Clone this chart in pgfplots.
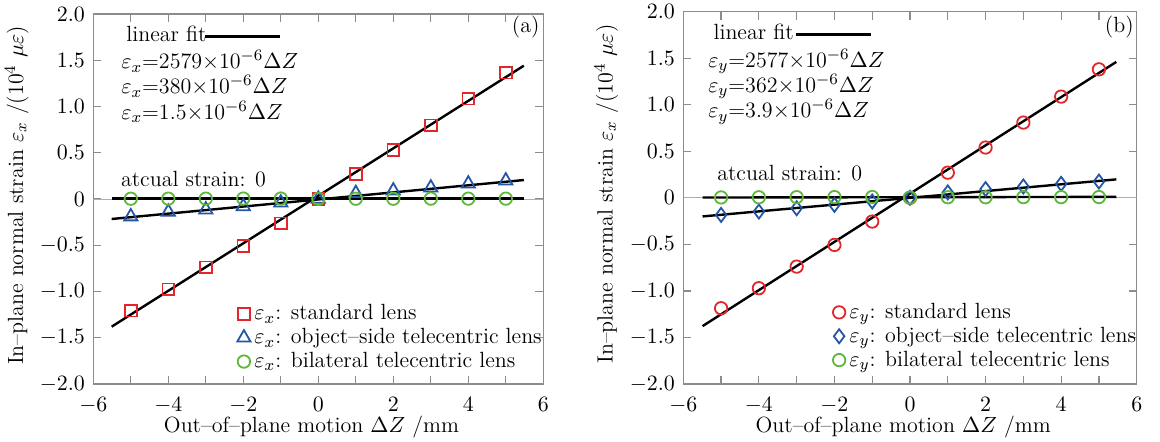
\documentclass[border=0pt]{standalone}
\usepackage{pgfplots}
\pgfplotsset{compat=1.18}
\definecolor{myred}{HTML}{E3262B}
\definecolor{myblue}{HTML}{2356A6}
\definecolor{mygreen}{HTML}{5DB83A}
\definecolor{axgray}{HTML}{8C8C8C}
\begin{document}
\begin{tikzpicture}[font=\fontsize{11}{13}\selectfont]
\useasboundingbox (0,0) rectangle (580pt,220.5pt);
\pgfplotsset{
  common/.style={
    scale only axis,
    xmin=-6, xmax=6, ymin=-2, ymax=2,
    xtick={-6,-4,-2,0,2,4,6},
    minor xtick={-5,-3,-1,1,3,5},
    ytick={-2,-1.5,-1,-0.5,0,0.5,1,1.5,2},
    yticklabels={$-2.0$,$-1.5$,$-1.0$,$-0.5$,$0$,$0.5$,$1.0$,$1.5$,$2.0$},
    tick align=inside,
    axis line style={axgray, line width=0.6pt},
    tick style={axgray, line width=0.6pt},
    major tick length=4pt, minor tick length=4pt,
    tick label style={font=\fontsize{10.5}{12}\selectfont},
    xticklabel style={inner sep=0.5pt, yshift=-5.8pt},
    yticklabel style={inner sep=0.5pt, xshift=-3.5pt},
    every axis y label/.style={at={(axis description cs:-0.17,0.51)}, rotate=90, anchor=center},
    every axis x label/.style={at={(axis description cs:0.485,0)}, yshift=-21.5pt, anchor=center},
    xlabel={Out--of--plane motion $\Delta Z$ /mm},
    ylabel={In--plane normal strain $\varepsilon_x$ /(10$^4$ $\mu\varepsilon$)},
    legend style={draw=none, fill=none, inner sep=0pt, cells={anchor=west},
      row sep=-1.2pt, font=\fontsize{11}{13}\selectfont},
    legend image code/.code={\draw[##1] plot coordinates {(0cm,0cm)};},
    fitline/.style={black, line width=1.2pt, forget plot},
  }
}
% ---------------- panel (a)
\begin{axis}[common, at={(46.65pt,28.5pt)}, anchor=south west, width=225pt, height=185pt,
  legend style={at={(axis cs:-2.17,-1.095)}, anchor=north west}]
\addplot[axgray!70, line width=0.4pt, forget plot] coordinates {(-6,0) (6,0)};
\addplot[fitline] coordinates {(-5.51,-1.38) (5.48,1.441)};
\addplot[fitline] coordinates {(-5.51,-0.216) (5.48,0.205)};
\addplot[fitline] coordinates {(-5.51,0.004) (5.48,0.004)};
\addplot[only marks, mark=square, mark size=2.9pt, myred, line width=0.9pt] coordinates {
(-5,-1.207) (-4,-0.977) (-3,-0.739) (-2,-0.508) (-1,-0.263) (0,0.0) (1,0.27) (2,0.53) (3,0.797) (4,1.085) (5,1.366)};
\addlegendentry{$\varepsilon_x$: standard lens}
\addplot[only marks, mark=triangle, mark size=3.8pt, myblue, line width=0.9pt] coordinates {
(-5,-0.19) (-4,-0.14) (-3,-0.115) (-2,-0.08) (-1,-0.04) (0,0.0) (1,0.062) (2,0.09) (3,0.122) (4,0.165) (5,0.198)};
\addlegendentry{$\varepsilon_x$: object--side telecentric lens}
\addplot[only marks, mark=o, mark size=3.1pt, mygreen, line width=0.9pt] coordinates {
(-5,0.003) (-4,0.004) (-3,0.004) (-2,0.005) (-1,0.005) (0,0.002) (1,0.003) (2,0.003) (3,0.004) (4,0.004) (5,0.004)};
\addlegendentry{$\varepsilon_x$: bilateral telecentric lens}
\node[anchor=base west, inner sep=0pt] at (axis cs:-5.13,1.70) {linear fit};
\draw[black, line width=1.2pt] (axis cs:-3.02,1.755) -- (axis cs:-1.02,1.755);
\node[anchor=north west, inner sep=0pt, align=left, font=\fontsize{11}{12.6}\selectfont] at (axis cs:-5.26,1.61)
  {$\varepsilon_x$=2579$\times$10$^{-6}\Delta Z$\\ $\varepsilon_x$=380$\times$10$^{-6}\Delta Z$\\ $\varepsilon_x$=1.5$\times$10$^{-6}\Delta Z$};
\node[anchor=base west, inner sep=0pt] at (axis cs:-5.27,0.133) {atcual strain: 0};
\node[anchor=base east, inner sep=0pt] at (axis cs:5.91,1.80) {(a)};
\end{axis}
% ---------------- panel (b)
\begin{axis}[common, at={(341.65pt,28.5pt)}, anchor=south west, width=226.7pt, height=186.2pt,
  legend style={at={(axis cs:-2.05,-1.085)}, anchor=north west}]
\addplot[axgray!70, line width=0.4pt, forget plot] coordinates {(-6,0) (6,0)};
\addplot[fitline] coordinates {(-5.49,-1.378) (5.46,1.46)};
\addplot[fitline] coordinates {(-5.49,-0.2) (5.46,0.198)};
\addplot[fitline] coordinates {(-5.49,0.003) (5.46,0.01)};
\addplot[only marks, mark=o, mark size=3.1pt, myred, line width=0.9pt] coordinates {
(-5,-1.186) (-4,-0.971) (-3,-0.739) (-2,-0.506) (-1,-0.255) (0,0.0) (1,0.27) (2,0.54) (3,0.808) (4,1.087) (5,1.38)};
\addlegendentry{$\varepsilon_y$: standard lens}
\addplot[only marks, mark=diamond, mark size=3.5pt, myblue, line width=0.9pt] coordinates {
(-5,-0.184) (-4,-0.148) (-3,-0.112) (-2,-0.076) (-1,-0.04) (0,0.0) (1,0.058) (2,0.094) (3,0.122) (4,0.15) (5,0.175)};
\addlegendentry{$\varepsilon_y$: object--side telecentric lens}
\addplot[only marks, mark=o, mark size=3.1pt, mygreen, line width=0.9pt] coordinates {
(-5,0.004) (-4,0.006) (-3,0.007) (-2,0.008) (-1,0.009) (0,0.003) (1,0.006) (2,0.006) (3,0.007) (4,0.007) (5,0.008)};
\addlegendentry{$\varepsilon_y$: bilateral telecentric lens}
\node[anchor=base west, inner sep=0pt] at (axis cs:-5.21,1.696) {linear fit};
\draw[black, line width=1.2pt] (axis cs:-3.02,1.755) -- (axis cs:-1.03,1.755);
\node[anchor=north west, inner sep=0pt, align=left, font=\fontsize{11}{12.6}\selectfont] at (axis cs:-5.35,1.60)
  {$\varepsilon_y$=2577$\times$10$^{-6}\Delta Z$\\ $\varepsilon_y$=362$\times$10$^{-6}\Delta Z$\\ $\varepsilon_y$=3.9$\times$10$^{-6}\Delta Z$};
\node[anchor=base west, inner sep=0pt] at (axis cs:-5.11,0.19) {atcual strain: 0};
\node[anchor=base east, inner sep=0pt] at (axis cs:5.93,1.78) {(b)};
\end{axis}
\end{tikzpicture}
\end{document}
